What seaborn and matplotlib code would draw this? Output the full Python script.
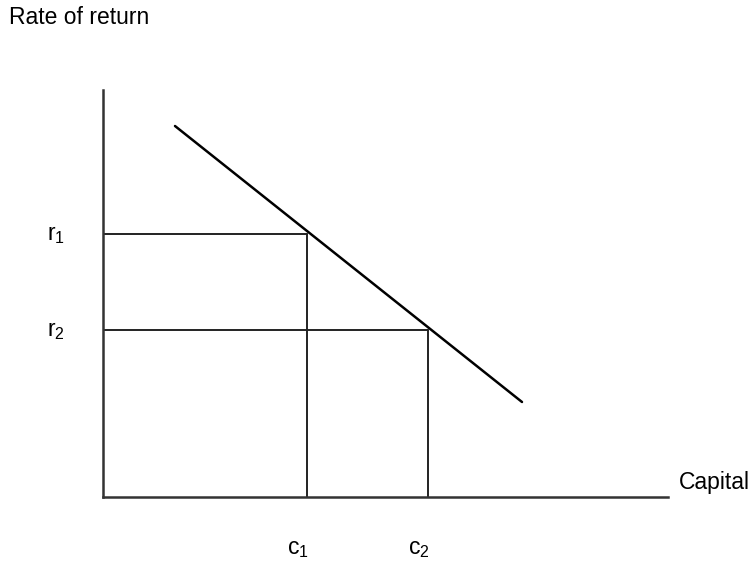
import matplotlib as mpl
mpl.use("Agg")
import matplotlib.pyplot as plt
import pandas as pd
import seaborn as sns

# values in pixel-like units measured from the axis corner
capital_curve = [72, 419]
rate_curve = [371, 95]
rate_levels = [263, 167]
rate_labels = ["r$_1$", "r$_2$"]
capital_levels = [204, 325]
capital_labels = ["c$_1$", "c$_2$"]
x_max = 565
y_max = 407

sns.set_style("white")
mpl.rcParams["font.family"] = ["Liberation Sans", "DejaVu Sans"]
mpl.rcParams["mathtext.default"] = "regular"

W, H = 754, 561
fig = plt.figure(figsize=(W / 100, H / 100), dpi=100)
ax = fig.add_axes([103 / W, (H - 497) / H, x_max / W, y_max / H])
ax.set_xlim(0, x_max)
ax.set_ylim(0, y_max)

curve = pd.DataFrame({"capital": capital_curve, "rate": rate_curve})
sns.lineplot(data=curve, x="capital", y="rate", color="black", lw=1.8, ax=ax)

# guide lines from each point on the curve to the axes
for c, r in zip(capital_levels, rate_levels):
    ax.plot([0, c], [r, r], color="#222222", lw=1.4)
    ax.plot([c, c], [0, r], color="#222222", lw=1.4)

for s in ["top", "right"]:
    ax.spines[s].set_visible(False)
for s in ["left", "bottom"]:
    ax.spines[s].set_color("#333333")
    ax.spines[s].set_linewidth(1.8)
ax.set_xticks([])
ax.set_yticks([])
ax.set_xlabel("")
ax.set_ylabel("")

fs = 16.5
for r, lab in zip(rate_levels, rate_labels):
    ax.text(-56, r, lab, ha="left", va="center", fontsize=fs, color="black", clip_on=False)
for c, lab in zip(capital_levels, capital_labels):
    ax.text(c - 20, -51, lab, ha="left", va="center", fontsize=fs, color="black", clip_on=False)

fig.text(9 / W, 1 - 18 / H, "Rate of return", ha="left", va="center", fontsize=fs, color="black")
fig.text(679 / W, 1 - 483 / H, "Capital", ha="left", va="center", fontsize=fs, color="black")

fig.savefig("out.png", dpi=100)
